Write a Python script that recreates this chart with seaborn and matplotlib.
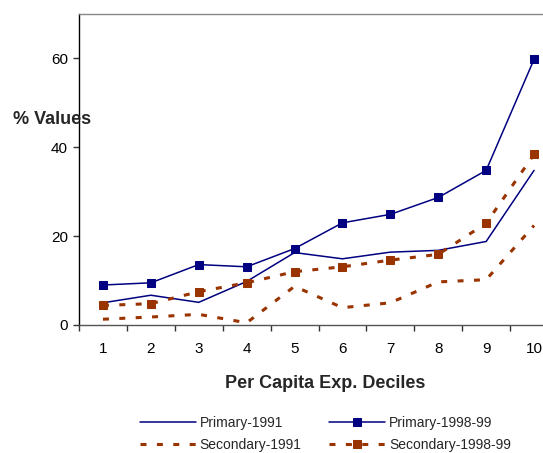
import matplotlib
matplotlib.use("Agg")
import matplotlib.pyplot as plt
import seaborn as sns
import pandas as pd
import numpy as np

deciles = [1, 2, 3, 4, 5, 6, 7, 8, 9, 10]
primary_1991 = [5.0, 6.7, 5.1, 9.8, 16.3, 14.9, 16.4, 16.8, 18.8, 34.8]
primary_1998 = [9.0, 9.5, 13.6, 13.1, 17.2, 23.0, 24.9, 28.7, 34.8, 59.8]
secondary_1991 = [1.3, 1.8, 2.4, 0.5, 8.7, 3.9, 5.0, 9.7, 10.2, 22.4]
secondary_1998 = [4.4, 4.8, 7.5, 9.5, 12.0, 13.1, 14.6, 15.9, 22.9, 38.4]
yticks = [0, 20, 40, 60]

sns.set_theme(style="white")
plt.rcParams["font.family"] = ["Liberation Sans", "DejaVu Sans"]
plt.rcParams["lines.scale_dashes"] = False

W, H = 543, 453
fig = plt.figure(figsize=(W / 100, H / 100), dpi=100)
ax = fig.add_axes([79 / W, 1 - 325 / H, (558 - 79) / W, (325 - 14) / H])

navy = "#000080"
brown = "#993300"
dash = (0, (4.3, 7.5))

series = [
    ("Primary-1991", primary_1991, navy, "-", None, 1.1),
    ("Primary-1998-99", primary_1998, navy, "-", "s", 1.1),
    ("Secondary-1991", secondary_1991, brown, dash, None, 2.2),
    ("Secondary-1998-99", secondary_1998, brown, dash, "s", 2.2),
]
handles = {}
for name, vals, col, ls, mk, lw in series:
    df = pd.DataFrame({"x": deciles, "y": vals})
    sns.lineplot(data=df, x="x", y="y", ax=ax, color=col, linestyle=ls,
                 marker=mk, markersize=6, markeredgecolor=col,
                 linewidth=lw, label=name, legend=False)
    handles[name] = ax.lines[-1]

ax.set_xlim(0.5, 10.5)
ax.set_ylim(0, 70)
ax.set_xlabel("")
ax.set_ylabel("")
ax.set_xticks(deciles)
ax.set_xticklabels([str(d) for d in deciles])
ax.set_xticks(np.arange(0.5, 11, 1.0), minor=True)
ax.tick_params(axis="x", which="major", length=0, pad=12, labelsize=11, colors="black")
ax.tick_params(axis="x", which="minor", bottom=True, length=4, width=1, color="#333333", direction="out")
ax.set_yticks(yticks)
ax.tick_params(axis="y", which="major", left=True, length=4, width=1, color="#333333",
               direction="out", pad=4, labelsize=11, labelcolor="black")

ax.spines["left"].set_color("black")
ax.spines["left"].set_linewidth(1.0)
ax.spines["bottom"].set_color("#555555")
ax.spines["bottom"].set_linewidth(1.0)
ax.spines["top"].set_color("#888888")
ax.spines["top"].set_linewidth(1.0)
ax.spines["right"].set_visible(False)

fig.text(13 / W, 1 - 119 / H, "% Values", fontsize=13, fontweight="bold", ha="left", va="center")
fig.text(325 / W, 1 - 383 / H, "Per Capita Exp. Deciles", fontsize=13, fontweight="bold",
         ha="center", va="center")

order = ["Primary-1991", "Secondary-1991", "Primary-1998-99", "Secondary-1998-99"]
leg = fig.legend([handles[n] for n in order], order, ncol=2, frameon=False,
                 loc="upper left", bbox_to_anchor=(140 / W, 1 - 416 / H),
                 fontsize=10, handlelength=4.0, handletextpad=0.3, columnspacing=2.0,
                 labelspacing=0.55, numpoints=1, borderpad=0, borderaxespad=0)

fig.savefig("out.png", dpi=100)
